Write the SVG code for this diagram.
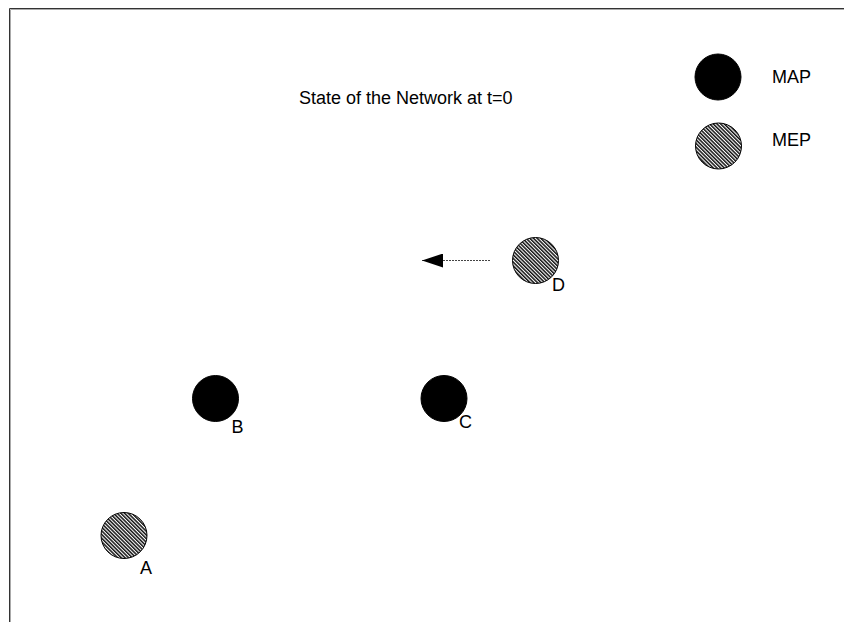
<svg xmlns="http://www.w3.org/2000/svg" width="844" height="622" viewBox="0 0 844 622">
<defs>
<pattern id="hatch" patternUnits="userSpaceOnUse" width="2.6" height="2.6" patternTransform="rotate(-45)">
<rect width="2.6" height="2.6" fill="#ffffff"/>
<rect width="1.5" height="2.6" fill="#111111"/>
</pattern>
<marker id="head" viewBox="0 0 22 14" refX="21" refY="7" markerWidth="22" markerHeight="14" markerUnits="userSpaceOnUse" orient="auto">
<path d="M21,7 L0,0 L0,14 Z" fill="#000"/>
</marker>
<style>
.map{fill:#000;stroke:#000;stroke-width:1}
.mep{fill:url(#hatch);stroke:#000;stroke-width:1}
.t{font-family:"Liberation Sans",Arial,sans-serif;font-size:18px;fill:#000}
.lbl{font-family:"Liberation Sans",Arial,sans-serif;font-size:18px;fill:#000}
</style>
</defs>
<rect width="844" height="622" fill="#fff"/>
<g id="frame">
<path d="M9.5,622 V8.5 H844" fill="none" stroke="#333" stroke-width="1"/>
<path d="M10.5,622 V9.5 H844" fill="none" stroke="#aaa" stroke-width="1"/>
</g>
<g id="title"><text class="t" x="299" y="104">State of the Network at t=0</text></g>
<g id="legend-map"><circle class="map" cx="718" cy="77" r="23"/><text class="t" x="772" y="83">MAP</text></g>
<g id="legend-mep"><circle class="mep" cx="718.5" cy="146" r="23"/><text class="t" x="772" y="146">MEP</text></g>
<g id="node-A"><circle class="mep" cx="124" cy="535.5" r="23"/><text class="lbl" x="140" y="574">A</text></g>
<g id="node-B"><circle class="map" cx="215.5" cy="398.5" r="23"/><text class="lbl" x="231.5" y="433">B</text></g>
<g id="node-C"><circle class="map" cx="444" cy="398.5" r="23"/><text class="lbl" x="459" y="428">C</text></g>
<g id="node-D"><circle class="mep" cx="535.5" cy="260.5" r="23"/><text class="lbl" x="552" y="291">D</text></g>
<g id="connectors">
<line x1="490" y1="260.5" x2="422" y2="260.5" stroke="#444" stroke-width="1.2" stroke-dasharray="2 1" marker-end="url(#head)"/>
</g>
</svg>
